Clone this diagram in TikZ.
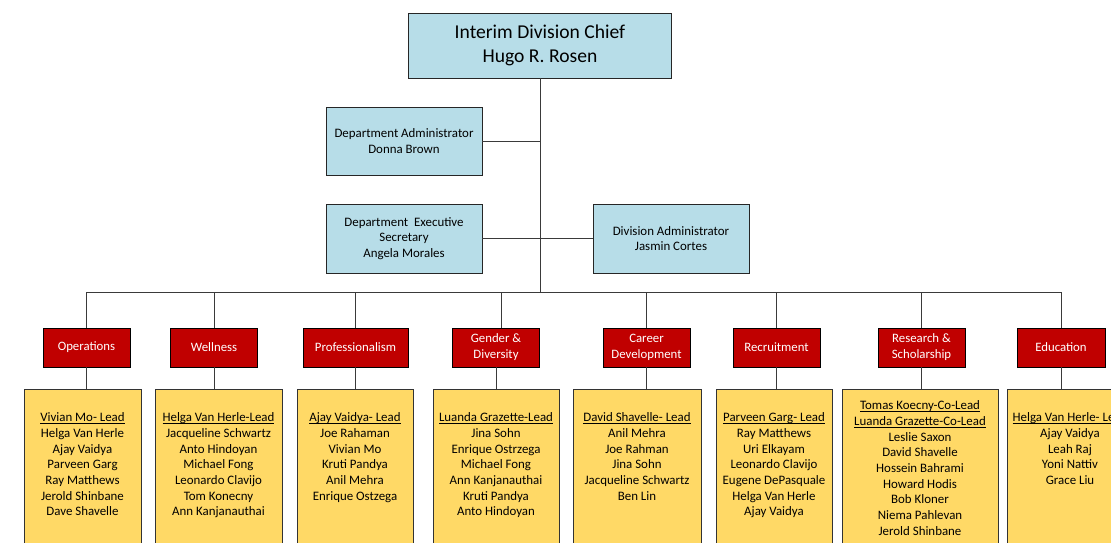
\documentclass[tikz,border=0pt]{standalone}
\usepackage{fontspec}
\setmainfont{Carlito}
\definecolor{lblue}{HTML}{B7DDE8}
\definecolor{dred}{HTML}{C00000}
\definecolor{myell}{HTML}{FFD966}
\definecolor{lncol}{HTML}{3A3A3A}
\newcommand\leadname[1]{\underline{\smash{#1}}}
\begin{document}
\begin{tikzpicture}[x=1pt,y=-1pt,
  conn/.style={draw=lncol,line width=0.9pt},
  bluebox/.style={draw=black!85,line width=0.8pt,fill=lblue,inner sep=0pt,align=center},
  redbox/.style={draw=black,line width=0.8pt,fill=dred,text=white,inner sep=0pt,align=center,
    minimum width=87pt,minimum height=39pt,font=\fontsize{12.8}{16}\selectfont},
  yelbox/.style={draw=black!80,line width=0.8pt,fill=myell,inner sep=0pt,anchor=north,minimum height=200pt},
  members/.style={anchor=north,align=center,inner sep=0pt,font=\fontsize{12.9}{15.7}\selectfont},
  smalltxt/.style={font=\fontsize{12.9}{15.2}\selectfont}]
\clip (0,0) rectangle (1111,542);
\fill[white] (0,0) rectangle (1111,542);
% top boxes
\node[bluebox,minimum width=263pt,minimum height=65pt,font=\fontsize{19.6}{24}\selectfont] (chief) at (540,45.5) {Interim Division Chief\\Hugo R. Rosen};
\node[bluebox,minimum width=156pt,minimum height=68pt,smalltxt] (donna) at (404,141) {Department Administrator\\Donna Brown};
\node[bluebox,minimum width=156pt,minimum height=69pt,smalltxt] (angela) at (404,238.5) {Department\ \ Executive\\Secretary\\Angela Morales};
\node[bluebox,minimum width=156pt,minimum height=69pt,smalltxt] (jasmin) at (671,238.5) {Division Administrator\\Jasmin Cortes};
% red boxes
\node[redbox] (ops) at (86.5,347.5) {Operations};
\node[redbox] (well) at (214,347.5) {Wellness};
\node[redbox,minimum width=105pt] (prof) at (355.5,347.5) {Professionalism};
\node[redbox] (gend) at (496,347.5) {Gender \&\\Diversity};
\node[redbox] (car) at (646.5,347.5) {Career\\Development};
\node[redbox] (rec) at (776.5,347.5) {Recruitment};
\node[redbox] (res) at (921.5,347.5) {Research \&\\Scholarship};
\node[redbox,minimum width=88pt] (edu) at (1061,347.5) {Education};
% yellow boxes
\node[yelbox,minimum width=117pt] (opsM) at (82.5,389) {};
\node[yelbox,minimum width=127pt] (wellM) at (218.5,389) {};
\node[yelbox,minimum width=116pt] (profM) at (355,389) {};
\node[yelbox,minimum width=126pt] (gendM) at (496,389) {};
\node[yelbox,minimum width=128pt] (carM) at (637,389) {};
\node[yelbox,minimum width=116pt] (recM) at (774,389) {};
\node[yelbox,minimum width=156pt] (resM) at (920,389) {};
\node[yelbox,minimum width=126pt] (eduM) at (1070,389) {};
% member texts
\node[members] (opsT) at (82.5,421.5) {\leadname{Vivian Mo- Lead}\\Helga Van Herle\\Ajay Vaidya\\Parveen Garg\\Ray Matthews\\Jerold Shinbane\\Dave Shavelle};
\node[members] (wellT) at (218.5,421.5) {\leadname{Helga Van Herle-Lead}\\Jacqueline Schwartz\\Anto Hindoyan\\Michael Fong\\Leonardo Clavijo\\Tom Konecny\\Ann Kanjanauthai};
\node[members] (profT) at (355,421.5) {\leadname{Ajay Vaidya- Lead}\\Joe Rahaman\\Vivian Mo\\Kruti Pandya\\Anil Mehra\\Enrique Ostzega};
\node[members] (gendT) at (496,421.5) {\leadname{Luanda Grazette-Lead}\\Jina Sohn\\Enrique Ostrzega\\Michael Fong\\Ann Kanjanauthai\\Kruti Pandya\\Anto Hindoyan};
\node[members] (carT) at (637,421.5) {\leadname{David Shavelle- Lead}\\Anil Mehra\\Joe Rahman\\Jina Sohn\\Jacqueline Schwartz\\Ben Lin};
\node[members] (recT) at (774,421.5) {\leadname{Parveen Garg- Lead}\\Ray Matthews\\Uri Elkayam\\Leonardo Clavijo\\Eugene DePasquale\\Helga Van Herle\\Ajay Vaidya};
\node[members] (resT) at (920,409.5) {\leadname{Tomas Koecny-Co-Lead}\\\leadname{Luanda Grazette-Co-Lead}\\Leslie Saxon\\David Shavelle\\Hossein Bahrami\\Howard Hodis\\Bob Kloner\\Niema Pahlevan\\Jerold Shinbane};
\node[members] (eduT) at (1070,421.5) {\leadname{Helga Van Herle- Lead}\\Ajay Vaidya\\Leah Raj\\Yoni Nattiv\\Grace Liu};
% connectors
\coordinate (bus) at (540,292);
\draw[conn] (chief.south) -- (chief.south |- bus);
\draw[conn] (donna.east) -- (donna.east -| chief.south);
\draw[conn] (angela.east) -- (jasmin.west);
\draw[conn] (ops.north |- bus) -- (edu.north |- bus);
\foreach \n in {ops,well,prof,car,rec,res,edu}{
  \draw[conn] (\n.north) -- (\n.north |- bus);
}
\draw[conn] ([xshift=5pt]gend.north) -- ([xshift=5pt]gend.north |- bus);
\foreach \n in {ops,well,prof,gend,car,rec,res,edu}{
  \draw[conn] (\n.south) -- (\n.south |- \n M.north);
}
\end{tikzpicture}
\end{document}
